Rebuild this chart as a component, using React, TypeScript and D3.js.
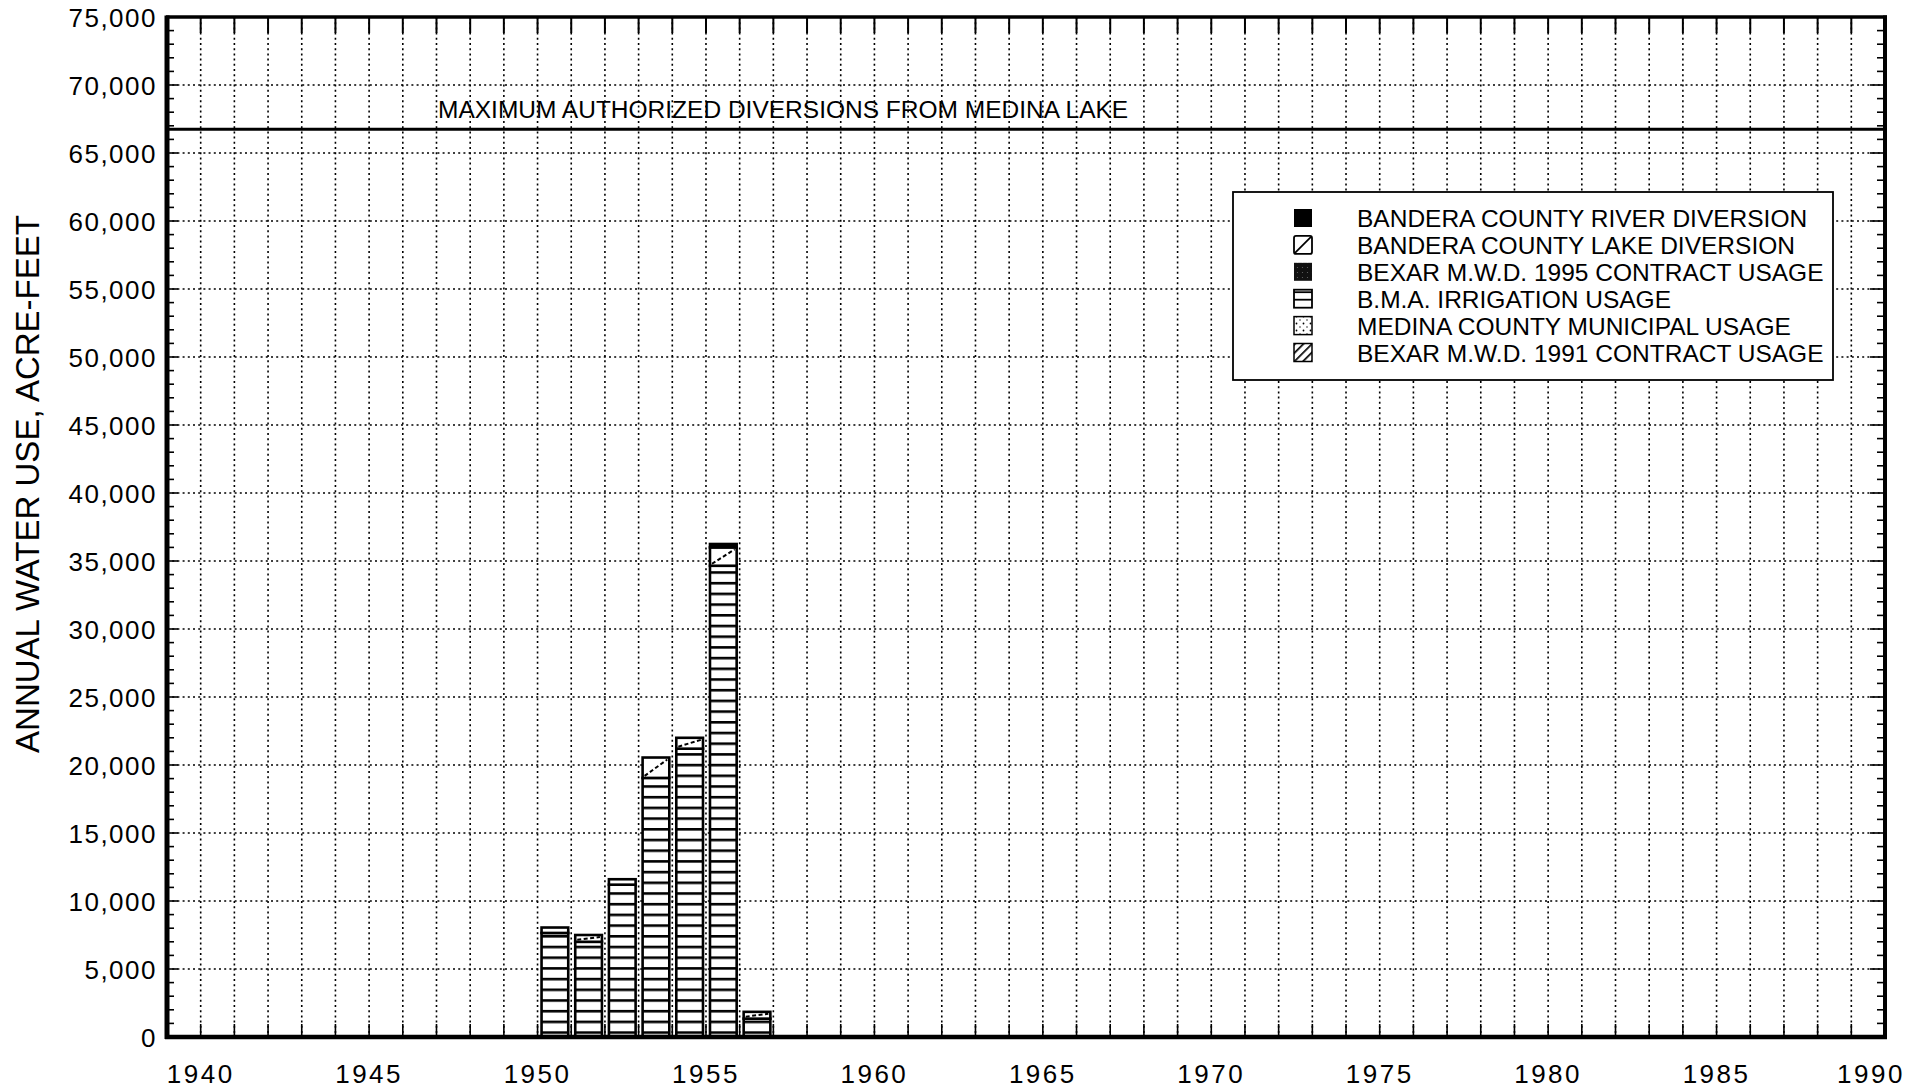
import React from 'react';
import * as d3 from 'd3';

// ---------- DATA ----------
const years = [1950, 1951, 1952, 1953, 1954, 1955, 1956];
const bexar1991 = [0, 0, 0, 0, 0, 0, 0];
const medinaMunicipal = [0, 0, 0, 0, 0, 0, 0];
const bmaIrrigation = [7650, 7000, 11200, 19050, 21200, 34650, 1350];
const bexar1995 = [0, 0, 0, 0, 0, 0, 0];
const banderaLake = [400, 500, 400, 1500, 800, 1350, 500];
const banderaRiver = [0, 0, 0, 0, 0, 250, 0];

const maxAuthorized = 66750;
const maxLabel = 'MAXIMUM AUTHORIZED DIVERSIONS FROM MEDINA LAKE';
const yTicks = [0, 5000, 10000, 15000, 20000, 25000, 30000, 35000, 40000, 45000, 50000, 55000, 60000, 65000, 70000, 75000];
const xLabels = [1940, 1945, 1950, 1955, 1960, 1965, 1970, 1975, 1980, 1985, 1990];
const yTitle = 'ANNUAL WATER USE, ACRE-FEET';

const stackKeys = ['bexar1991', 'medinaMunicipal', 'bmaIrrigation', 'bexar1995', 'banderaLake', 'banderaRiver'];
const legendKeys = ['banderaRiver', 'banderaLake', 'bexar1995', 'bmaIrrigation', 'medinaMunicipal', 'bexar1991'];
const legendLabels = [
  'BANDERA COUNTY RIVER DIVERSION',
  'BANDERA COUNTY LAKE DIVERSION',
  'BEXAR M.W.D. 1995 CONTRACT USAGE',
  'B.M.A. IRRIGATION USAGE',
  'MEDINA COUNTY MUNICIPAL USAGE',
  'BEXAR M.W.D. 1991 CONTRACT USAGE',
];

const FONT = "'Liberation Sans', Arial, Helvetica, sans-serif";

export default function App() {
  const W = 1919, H = 1090;
  const left = 167, right = 1885, top = 17, bottom = 1037;
  const x = d3.scaleLinear().domain([1939, 1990]).range([left, right]);
  const y = d3.scaleLinear().domain([0, 75000]).range([bottom, top]);

  const rows = years.map((yr, i) => ({
    year: yr,
    bexar1991: bexar1991[i],
    medinaMunicipal: medinaMunicipal[i],
    bmaIrrigation: bmaIrrigation[i],
    bexar1995: bexar1995[i],
    banderaLake: banderaLake[i],
    banderaRiver: banderaRiver[i],
  }));
  const series = d3.stack<any>().keys(stackKeys)(rows);

  const gridYears = d3.range(1940, 1990);
  const minorY = d3.range(1000, 75000, 1000);
  const gridY = d3.range(5000, 75000, 5000);

  const dot = { stroke: '#000', strokeWidth: 1.6, strokeDasharray: '2,3.2' };

  const segFill = (key: string) => {
    switch (key) {
      case 'banderaRiver': return '#000';
      case 'bexar1995': return 'url(#darkDots)';
      case 'bmaIrrigation': return 'url(#bmaPat)';
      case 'medinaMunicipal': return 'url(#lightDots)';
      case 'bexar1991': return 'url(#hatch)';
      default: return '#fff';
    }
  };

  const legX = 1233, legY = 192, legW = 600, legH = 188;
  const rowY0 = 218, rowStep = 26.9;
  const swX = 1294, sw = 18;

  const swatch = (key: string, cy: number) => {
    const sx = swX, sy = cy - sw / 2;
    switch (key) {
      case 'banderaRiver':
        return <rect x={sx} y={sy} width={sw} height={sw} fill="#000" />;
      case 'banderaLake':
        return (
          <g>
            <rect x={sx} y={sy} width={sw} height={sw} fill="#fff" stroke="#000" strokeWidth={1.8} rx={2} />
            <line x1={sx + 1} y1={sy + sw - 1} x2={sx + sw - 1} y2={sy + 1} stroke="#000" strokeWidth={1.8} />
          </g>
        );
      case 'bexar1995':
        return <rect x={sx} y={sy} width={sw} height={sw} fill="url(#darkDots)" />;
      case 'bmaIrrigation':
        return (
          <g>
            <rect x={sx} y={sy} width={sw} height={sw} fill="#fff" stroke="#000" strokeWidth={1.8} />
            <line x1={sx} y1={sy + 2.5} x2={sx + sw} y2={sy + 2.5} stroke="#000" strokeWidth={1.8} />
            <line x1={sx} y1={sy + sw / 2 + 1} x2={sx + sw} y2={sy + sw / 2 + 1} stroke="#000" strokeWidth={1.8} />
          </g>
        );
      case 'medinaMunicipal':
        return <rect x={sx} y={sy} width={sw} height={sw} fill="url(#lightDots)" stroke="#000" strokeWidth={1.5} />;
      default:
        return <rect x={sx} y={sy} width={sw} height={sw} fill="url(#hatch)" stroke="#000" strokeWidth={1.5} />;
    }
  };

  return (
    <svg width={W} height={H} style={{ position: 'absolute', left: 0, top: 0, background: '#fff' }} fontFamily={FONT}>
      <defs>
        <pattern id="bmaPat" patternUnits="userSpaceOnUse" width={20} height={10.7} x={0} y={bottom - 5.7}>
          <rect width={20} height={10.7} fill="#fff" />
          <rect x={0} y={0} width={20} height={2.6} fill="#000" />
        </pattern>
        <pattern id="darkDots" patternUnits="userSpaceOnUse" width={5} height={5}>
          <rect width={5} height={5} fill="#111" />
          <circle cx={2.5} cy={2.5} r={0.6} fill="#666" />
        </pattern>
        <pattern id="lightDots" patternUnits="userSpaceOnUse" width={7} height={7}>
          <rect width={7} height={7} fill="#fff" />
          <circle cx={1.5} cy={1.5} r={0.9} fill="#000" />
          <circle cx={5} cy={5} r={0.7} fill="#000" />
        </pattern>
        <pattern id="hatch" patternUnits="userSpaceOnUse" width={6} height={6} patternTransform="rotate(45)">
          <rect width={6} height={6} fill="#fff" />
          <rect x={0} y={0} width={1.7} height={6} fill="#000" />
        </pattern>
      </defs>

      {/* grid */}
      <g>
        {gridYears.map((yr) => (
          <line key={'gv' + yr} x1={x(yr)} x2={x(yr)} y1={top} y2={bottom} {...dot} />
        ))}
        {gridY.map((v) => (
          <line key={'gh' + v} x1={left} x2={right} y1={y(v)} y2={y(v)} {...dot} />
        ))}
      </g>

      {/* ticks */}
      <g stroke="#000">
        {gridYears.map((yr) => (
          <line key={'tt' + yr} x1={x(yr)} x2={x(yr)} y1={top} y2={top + 16} strokeWidth={2} />
        ))}
        {gridYears.map((yr) => (
          <line key={'tb' + yr} x1={x(yr)} x2={x(yr)} y1={bottom} y2={bottom - 13} strokeWidth={1.6} />
        ))}
        {minorY.map((v) => (
          <line key={'tl' + v} x1={left} x2={left + (v % 5000 === 0 ? 11 : 7)} y1={y(v)} y2={y(v)} strokeWidth={1.6} />
        ))}
        {minorY.map((v) => (
          <line key={'tr' + v} x1={right} x2={right - (v % 5000 === 0 ? 15 : 8)} y1={y(v)} y2={y(v)} strokeWidth={1.6} />
        ))}
      </g>

      {/* bars */}
      <g>
        {series.map((s) => (
          <g key={s.key}>
            {s.map((d, i) => {
              const h = y(d[0]) - y(d[1]);
              if (h <= 0) return null;
              const yr = years[i];
              const x0 = x(yr) + 4;
              const w = x(yr + 1) - x(yr) - 7;
              return (
                <g key={s.key + yr}>
                  <rect x={x0} y={y(d[1])} width={w} height={h} fill={segFill(s.key)} stroke="#000" strokeWidth={2.6} />
                  {s.key === 'banderaLake' && h > 6 ? (
                    <line x1={x0 + 2} y1={y(d[0]) - 2} x2={x0 + w - 2} y2={y(d[1]) + 2} stroke="#000" strokeWidth={2} strokeDasharray="4,2.5" />
                  ) : null}
                </g>
              );
            })}
          </g>
        ))}
      </g>

      {/* max authorized line */}
      <line x1={left} x2={right} y1={y(maxAuthorized)} y2={y(maxAuthorized)} stroke="#000" strokeWidth={3} />
      <text x={438} y={y(maxAuthorized) - 11} fontSize={24.5} fill="#000">{maxLabel}</text>

      {/* frame */}
      <line x1={left - 1} x2={right + 2} y1={top} y2={top} stroke="#000" strokeWidth={3.5} />
      <line x1={left} x2={left} y1={top - 1.5} y2={bottom + 2} stroke="#000" strokeWidth={5} />
      <line x1={right} x2={right} y1={top - 1.5} y2={bottom + 2} stroke="#000" strokeWidth={4} />
      <line x1={left - 2} x2={right + 2} y1={bottom} y2={bottom} stroke="#000" strokeWidth={4.5} />

      {/* y tick labels */}
      <g fontSize={26} fill="#000" textAnchor="end" letterSpacing={1.5}>
        {yTicks.map((v) => (
          <text key={'yl' + v} x={157} y={y(v) + 10}>{d3.format(',')(v)}</text>
        ))}
      </g>

      {/* x labels */}
      <g fontSize={26} fill="#000" textAnchor="middle" letterSpacing={2.5}>
        {xLabels.map((yr) => (
          <text key={'xl' + yr} x={Math.min(x(yr), W - 48)} y={1083}>{yr}</text>
        ))}
      </g>

      {/* y title */}
      <text transform={`translate(39, 484) rotate(-90)`} textAnchor="middle" fontSize={33} fill="#000">{yTitle}</text>

      {/* legend */}
      <g>
        <rect x={legX} y={legY} width={legW} height={legH} fill="#fff" stroke="#000" strokeWidth={1.8} />
        {legendKeys.map((k, i) => {
          const cy = rowY0 + i * rowStep;
          return (
            <g key={'lg' + k}>
              {swatch(k, cy)}
              <text x={1357} y={cy + 9} fontSize={24.5} fill="#000">{legendLabels[i]}</text>
            </g>
          );
        })}
      </g>
    </svg>
  );
}
